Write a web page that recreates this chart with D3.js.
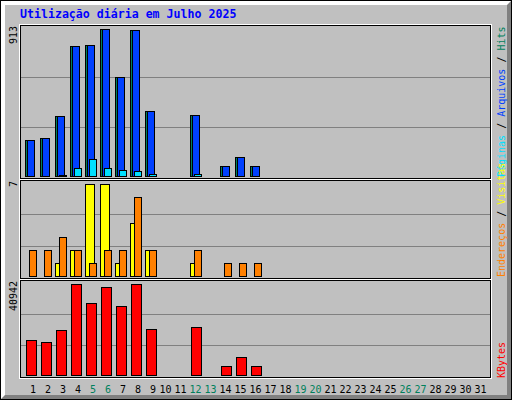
<!DOCTYPE html>
<html>
<head>
<meta charset="utf-8">
<script src="https://cdn.jsdelivr.net/npm/d3@7"></script>
<style>
body { margin: 0; background: #fff; }
svg { display: block; }
text { font-family: "DejaVu Sans Mono", monospace; }
</style>
</head>
<body>
<svg id="chart" width="512" height="400"></svg>
<script>
// dados diarios, Julho 2025 (dias 1..31)
var days = d3.range(1, 32);
var weekendDays = [5, 6, 12, 13, 19, 20, 26, 27];
var hits   = [224, 236, 373, 807, 814, 913, 615, 907, 404, 0, 0, 379, 0, 62, 118, 62, 0,0,0,0,0,0,0,0,0,0,0,0,0,0,0];
var files  = [222, 234, 371, 805, 812, 911, 613, 905, 402, 0, 0, 377, 0, 60, 116, 60, 0,0,0,0,0,0,0,0,0,0,0,0,0,0,0];
var pages  = [0, 0, 3, 50, 105, 50, 37, 31, 12, 0, 0, 12, 0, 0, 0, 0, 0,0,0,0,0,0,0,0,0,0,0,0,0,0,0];
var visits = [0, 0, 1, 2, 7, 7, 1, 4, 2, 0, 0, 1, 0, 0, 0, 0, 0,0,0,0,0,0,0,0,0,0,0,0,0,0,0];
var sites  = [2, 2, 3, 2, 1, 2, 2, 6, 2, 0, 0, 2, 0, 1, 1, 1, 0,0,0,0,0,0,0,0,0,0,0,0,0,0,0];
var kbytes = [15800, 14900, 20300, 40942, 32500, 39600, 31150, 40900, 20760, 0, 0, 21700, 0, 4060, 8120, 4060, 0,0,0,0,0,0,0,0,0,0,0,0,0,0,0];

var title = "Utilização diária em Julho 2025";

const colors = {
	hits: "#00805c", files: "#0040ff", pages: "#00e0ff",
	visits: "#ffff00", sites: "#ff8000", kbytes: "#ff0000",
	bg: "#c0c0c0", dark: "#808080", title: "#0000ff"
};

var svg = d3.select("#chart");

// fundo e borda 3D
svg.append("rect").attr("width", 512).attr("height", 400).attr("fill", colors.bg);
var border = svg.append("g").attr("shape-rendering", "crispEdges");
d3.range(1, 5).forEach(function (i) {
	border.append("line").attr("x1", i).attr("x2", 511 - i).attr("y1", i + 0.5).attr("y2", i + 0.5).attr("stroke", "#fff");
	border.append("line").attr("x1", i + 0.5).attr("x2", i + 0.5).attr("y1", i).attr("y2", 399 - i).attr("stroke", "#fff");
	border.append("line").attr("x1", i + 1).attr("x2", 511 - i).attr("y1", 399 - i + 0.5).attr("y2", 399 - i + 0.5).attr("stroke", colors.dark);
	border.append("line").attr("x1", 511 - i + 0.5).attr("x2", 511 - i + 0.5).attr("y1", i + 1).attr("y2", 400 - i).attr("stroke", colors.dark);
});
border.append("rect").attr("x", 0.5).attr("y", 0.5).attr("width", 511).attr("height", 399)
	.attr("fill", "none").attr("stroke", "#000");

svg.append("text").attr("x", 20).attr("y", 18)
	.attr("font-size", "11.6px").attr("font-weight", "bold").attr("fill", colors.title)
	.text(title);

var x = d3.scaleLinear().domain([1, 31]).range([25, 475]);

var panels = [
	{ top: 25, bottom: 178, base: 176, y: d3.scaleLinear().domain([0, d3.max(hits)]).range([176, 29]),
	  max: d3.max(hits) },
	{ top: 180, bottom: 278, base: 276, y: d3.scaleLinear().domain([0, d3.max(visits.concat(sites))]).range([276, 184]),
	  max: d3.max(visits.concat(sites)) },
	{ top: 280, bottom: 377, base: 375, y: d3.scaleLinear().domain([0, d3.max(kbytes)]).range([375, 284]),
	  max: d3.max(kbytes) }
];

var g = svg.append("g").attr("shape-rendering", "crispEdges");

panels.forEach(function (p) {
	g.append("rect").attr("x", 19.5).attr("y", p.top - 0.5).attr("width", 472).attr("height", p.bottom - p.top + 2)
		.attr("fill", "none").attr("stroke", "#fff");
	g.append("rect").attr("x", 20.5).attr("y", p.top + 0.5).attr("width", 470).attr("height", p.bottom - p.top)
		.attr("fill", "none").attr("stroke", "#000");
	[0.33, 0.675].forEach(function (f) {
		var yy = Math.round(p.y(p.max * f)) + 0.5;
		g.append("line").attr("x1", 21).attr("x2", 490).attr("y1", yy).attr("y2", yy)
			.attr("stroke", colors.dark);
	});
	svg.append("text")
		.attr("transform", "translate(17," + (p.top + 1) + ") rotate(-90)")
		.attr("text-anchor", "end").attr("font-size", "10px").attr("fill", "#000")
		.text(p.max);
});

// barras: serie, painel, deslocamento e largura
function bars(values, p, off, w, color) {
	g.append("g").selectAll("rect")
		.data(days.filter(d => values[d - 1] > 0))
		.enter().append("rect")
		.attr("x", d => Math.round(x(d)) + off + 0.5)
		.attr("y", d => Math.min(Math.round(p.y(values[d - 1])), p.base - 1) + 0.5)
		.attr("width", w)
		.attr("height", d => Math.max(1, p.base - Math.round(p.y(values[d - 1]))))
		.attr("fill", color)
		.attr("stroke", "#000");
}

bars(hits, panels[0], 0, 9, colors.hits);
bars(files, panels[0], 2, 7, colors.files);
bars(pages, panels[0], 4, 7, colors.pages);
bars(visits, panels[1], 0, 9, colors.visits);
bars(sites, panels[1], 4, 7, colors.sites);
bars(kbytes, panels[2], 1, 10, colors.kbytes);

// rotulos dos dias
svg.append("g").selectAll("text")
	.data(days)
	.enter().append("text")
	.attr("x", d => x(d) + (d < 10 ? 8 : 5.5))
	.attr("y", 393)
	.attr("text-anchor", "middle")
	.attr("font-size", "10px")
	.attr("fill", d => weekendDays.indexOf(d) >= 0 ? colors.hits : "#000")
	.text(d => d);

// legendas verticais
var legends = [
	{ y: 177, parts: [["Páginas", colors.pages], [" / ", "#000"], ["Arquivos", colors.files], [" / ", "#000"], ["Hits", colors.hits]] },
	{ y: 277, parts: [["Endereços", colors.sites], [" / ", "#000"], ["Visitas", colors.visits]] },
	{ y: 378, parts: [["KBytes", colors.kbytes]] }
];
legends.forEach(function (l) {
	var t = svg.append("text")
		.attr("transform", "translate(505," + l.y + ") rotate(-90)")
		.attr("font-size", "10px");
	l.parts.forEach(function (pt) {
		t.append("tspan").attr("fill", pt[1]).text(pt[0]);
	});
});
</script>
</body>
</html>
